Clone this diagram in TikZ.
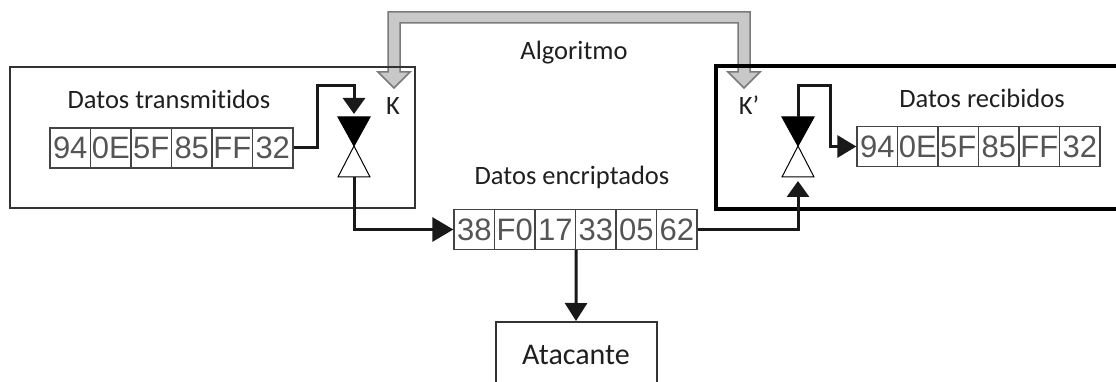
\documentclass[tikz,border=0pt]{standalone}
\usepackage{fontspec}
\setmainfont[Ligatures=NoCommon]{Carlito}
\newfontfamily\arifont{Liberation Sans}
\usetikzlibrary{arrows.meta}
\definecolor{boxc}{HTML}{333333}
\definecolor{cellc}{HTML}{444444}
\definecolor{numc}{HTML}{555555}
\definecolor{keyfill}{HTML}{C8C8C8}
\definecolor{keyline}{HTML}{7A7A7A}
\begin{document}
\begin{tikzpicture}[x=1pt,y=-1pt,
  cell/.style={draw=cellc,line width=1.3pt,minimum width=40.5pt,minimum height=40pt,inner sep=0pt,
    font=\arifont\fontsize{31}{31}\selectfont,text=numc},
  lbl/.style={font=\fontsize{26.5}{30}\selectfont,anchor=base,inner sep=0pt,text=black!88},
  conn/.style={line width=3pt,black!90},
  frame/.style={draw=boxc,line width=2pt,inner sep=0pt},
  valve/.style={draw=black,line width=1pt},
]
\useasboundingbox (0,0) rectangle (1116,382);
\clip (0,0) rectangle (1116,382);

% key distribution arrow (Algoritmo)
\draw[keyline,fill=keyfill,line width=1.5pt,line join=miter]
  (394,88) -- (410,72) -- (400,72) -- (400,23) -- (738,23) -- (738,72) -- (728,72)
  -- (744,88) -- (760,72) -- (750,72) -- (750,12) -- (388,12) -- (388,72) -- (378,72) -- cycle;

% frames
\node[frame,minimum width=405pt,minimum height=141pt] (txbox) at (212.5,137.5) {};
\node[draw=black,line width=3.5pt,inner sep=0pt,minimum width=414pt,minimum height=143pt] (rxbox) at (923,137.5) {};

% labels
\node[lbl] (ltx) at (169,109) {Datos transmitidos};
\node[lbl] (lrx) at (982,108) {Datos recibidos};
\node[lbl] (lalg) at (574,60) {Algoritmo};
\node[lbl] (lenc) at (572,185) {Datos encriptados};
\node[lbl] (lk) at (393,115) {K};
\node[lbl] (lk2) at (749,115) {K’};

% data cells
\foreach \v [count=\i] in {94,0E,5F,85,FF,32}
  \node[cell] (t\i) at ({29.75+40.5*\i},148) {\v};
\foreach \v [count=\i] in {94,0E,5F,85,FF,32}
  \node[cell] (r\i) at ({836.75+40.5*\i},146.5) {\v};
\foreach \v [count=\i] in {38,F0,17,33,05,62}
  \node[cell] (e\i) at ({433.75+40.5*\i},229.5) {\v};

% attacker
\node[frame,minimum width=161pt,minimum height=66pt,font=\fontsize{30}{30}\selectfont,text=black!88] (att) at (576,355) {Atacante};

% valves
\draw[valve,fill=black] (338,117) -- (370,117) -- (354,146) -- cycle;
\draw[valve,fill=white] (354,146) -- (338,177) -- (370,177) -- cycle;
\draw[valve,fill=black] (782,117) -- (814,117) -- (798,146) -- cycle;
\draw[valve,fill=white] (798,146) -- (782,177) -- (814,177) -- cycle;
\coordinate (vLin) at (354,114);
\coordinate (vLbot) at (354,177);
\coordinate (vRtop) at (798,117);
\coordinate (vRin) at (798,181);

% connectors
\draw[conn,-{Triangle[length=16pt,width=22pt]}] (t6.east) -- ++(24,0) -- ++(0,-62) -| (vLin);
\draw[conn,-{Triangle[length=21pt,width=24pt]}] (vLbot) |- (e1.west);
\draw[conn,-{Triangle[length=16pt,width=22pt]}] (e6.east) -| (vRin);
\draw[conn,-{Triangle[length=19pt,width=22pt]}] (vRtop) -- ++(0,-31) -- ++(32,0) |- (r1.west);
\draw[conn,-{Triangle[length=18pt,width=22pt]}] (e3.south east) -- (att.north);
\end{tikzpicture}
\end{document}
